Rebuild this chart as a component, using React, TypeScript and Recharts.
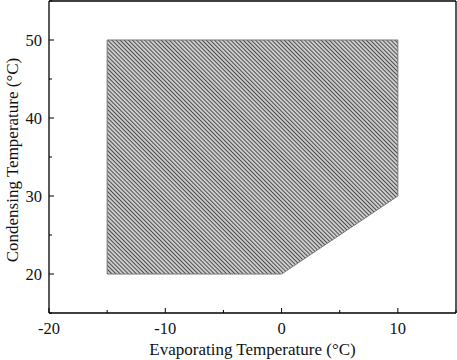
import { ComposedChart, Area, Line, XAxis, YAxis } from 'recharts';

// operating envelope (evaporating temp vs condensing temp)
const evapTemps = [-15, 0, 10];
const condLow = [20, 20, 30];
const condHigh = [50, 50, 50];

// closed outline of the envelope
const outlineEvap = [-15, 0, 10, 10, -15, -15];
const outlineCond = [20, 20, 30, 50, 50, 20];

const xTicks = [-20, -15, -10, -5, 0, 5, 10, 15];
const yTicks = [15, 20, 25, 30, 35, 40, 45, 50, 55];

const areaData = evapTemps.map((t, i) => ({ t, range: [condLow[i], condHigh[i]] }));
const outlineData = outlineEvap.map((t, i) => ({ t, c: outlineCond[i] }));

const FONT = '"Liberation Serif", "DejaVu Serif", serif';
const BOTTOM_MARGIN = 10;
const LEFT_MARGIN = 10;

const isMajor = (v: number) => v % 10 === 0;

const BottomTick = ({ x, y, payload }: any) => {
  const axisY = y - BOTTOM_MARGIN;
  const v = payload.value;
  return (
    <g>
      <line x1={x} x2={x} y1={axisY} y2={axisY - (isMajor(v) ? 5 : 3)} stroke="#000" />
      {isMajor(v) && v !== 15 && (
        <text x={x} y={axisY + 21} textAnchor="middle" fontFamily={FONT} fontSize={16.5} fill="#111">
          {v}
        </text>
      )}
    </g>
  );
};

const TopTick = ({ x, y, payload }: any) => (
  <line x1={x} x2={x} y1={y} y2={y + (isMajor(payload.value) ? 5 : 3)} stroke="#000" />
);

const LeftTick = ({ x, y, payload }: any) => {
  const axisX = x + LEFT_MARGIN;
  const v = payload.value;
  const labeled = isMajor(v) && v >= 20 && v <= 50;
  return (
    <g>
      <line x1={axisX} x2={axisX + (isMajor(v) ? 5 : 3)} y1={y} y2={y} stroke="#000" />
      {labeled && (
        <text x={axisX - 7} y={y} textAnchor="end" dominantBaseline="central" fontFamily={FONT} fontSize={16.5} fill="#111">
          {v}
        </text>
      )}
    </g>
  );
};

const RightTick = ({ x, y, payload }: any) => (
  <line x1={x} x2={x - (isMajor(payload.value) ? 5 : 3)} y1={y} y2={y} stroke="#000" />
);

const YLabel = ({ viewBox }: any) => (
  <text
    transform={`translate(12, ${viewBox.y + viewBox.height / 2 + 3}) rotate(-90)`}
    textAnchor="middle"
    dominantBaseline="central"
    fontFamily={FONT}
    fontSize={17}
    fill="#111"
  >
    Condensing Temperature (°C)
  </text>
);

const XLabel = ({ viewBox }: any) => (
  <text
    x={viewBox.x + viewBox.width / 2}
    y={355}
    textAnchor="middle"
    fontFamily={FONT}
    fontSize={17}
    fill="#111"
  >
    Evaporating Temperature (°C)
  </text>
);

export default function App() {
  return (
    <div style={{ position: 'absolute', left: 0, top: 0, background: '#fff' }}>
      <ComposedChart width={457} height={360} margin={{ top: 0, right: 0, bottom: 0, left: 0 }}>
        <defs>
          <pattern id="hatch" width="2.9" height="2.9" patternUnits="userSpaceOnUse" patternTransform="rotate(-45)">
            <rect width="2.9" height="2.9" fill="#fff" />
            <line x1="1.45" y1="0" x2="1.45" y2="2.9" stroke="#4a4a4a" strokeWidth="1.5" />
          </pattern>
        </defs>
        <XAxis
          dataKey="t"
          type="number"
          domain={[-20, 15]}
          ticks={xTicks}
          allowDataOverflow
          height={47}
          tickLine={false}
          tickSize={0}
          tickMargin={BOTTOM_MARGIN}
          tick={<BottomTick />}
          interval={0}
          axisLine={{ stroke: '#000', strokeWidth: 1.3 }}
          label={<XLabel />}
        />
        <XAxis
          xAxisId="top"
          orientation="top"
          dataKey="t"
          type="number"
          domain={[-20, 15]}
          ticks={xTicks}
          height={1}
          tickLine={false}
          tickSize={0}
          tickMargin={0}
          tick={<TopTick />}
          interval={0}
          axisLine={{ stroke: '#000', strokeWidth: 1.3 }}
        />
        <YAxis
          type="number"
          domain={[15, 55]}
          ticks={yTicks}
          allowDataOverflow
          width={49}
          tickLine={false}
          tickSize={0}
          tickMargin={LEFT_MARGIN}
          tick={<LeftTick />}
          interval={0}
          axisLine={{ stroke: '#000', strokeWidth: 1.3 }}
          label={<YLabel />}
        />
        <YAxis
          yAxisId="right"
          orientation="right"
          type="number"
          domain={[15, 55]}
          ticks={yTicks}
          width={1}
          tickLine={false}
          tickSize={0}
          tickMargin={0}
          tick={<RightTick />}
          interval={0}
          axisLine={{ stroke: '#000', strokeWidth: 1.3 }}
        />
        <Area
          data={areaData}
          dataKey="range"
          type="linear"
          stroke="none"
          fill="url(#hatch)"
          fillOpacity={1}
          isAnimationActive={false}
        />
        <Line
          data={outlineData}
          dataKey="c"
          type="linear"
          stroke="#777"
          strokeWidth={1}
          dot={false}
          activeDot={false}
          isAnimationActive={false}
        />
      </ComposedChart>
    </div>
  );
}
